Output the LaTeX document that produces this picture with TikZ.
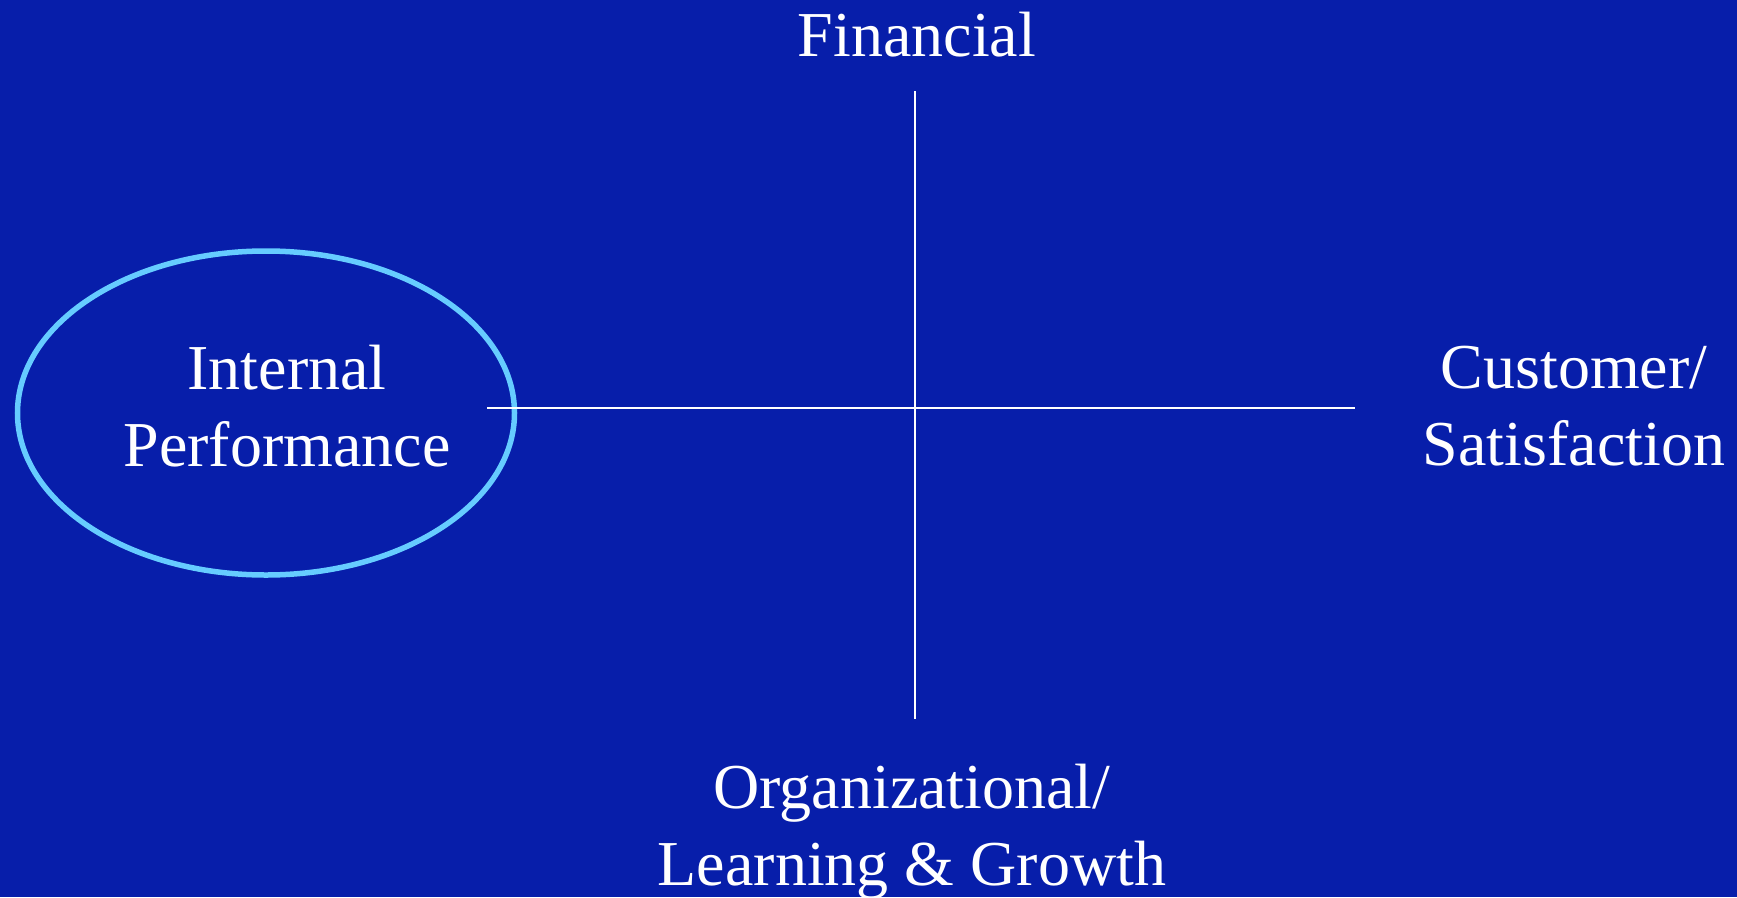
\documentclass[tikz,border=0pt]{standalone}
\usepackage{fontspec}
\setmainfont{Liberation Serif}
\usetikzlibrary{shapes.geometric}
\definecolor{bg}{HTML}{071EAA}
\definecolor{ring}{HTML}{66CCFF}
\begin{document}
\begin{tikzpicture}[x=1pt,y=-1pt,
  lbl/.style={text=white,font=\fontsize{64}{77}\selectfont,align=center,anchor=base,inner sep=0pt},
  axis/.style={draw=white,line width=2pt},
  oval/.style={draw=ring,line width=5.5pt,ellipse,inner sep=0pt,minimum width=497pt,minimum height=324pt}]
% background
\fill[bg] (0,0) rectangle (1737,897);
\useasboundingbox (0,0) rectangle (1737,897);
% highlighted perspective
\node[oval] (ring) at (266,413) {};
% perspective labels (anchored at the baseline of the last line)
\node[lbl] (fin) at (917,56) {Financial};
\node[lbl] (int) at (287,466) {Internal\\Performance};
\node[lbl] (cus) at (1574,465) {Customer/\\Satisfaction};
\node[lbl] (org) at (912,885) {Organizational/\\Learning \& Growth};
% axes
\coordinate (top) at (915,91);
\coordinate (bot) at (915,719);
\coordinate (lft) at (487,408);
\coordinate (rgt) at (1355,408);
\draw[axis] (top) -- (bot);
\draw[axis] (lft) -- (rgt);
\end{tikzpicture}
\end{document}
